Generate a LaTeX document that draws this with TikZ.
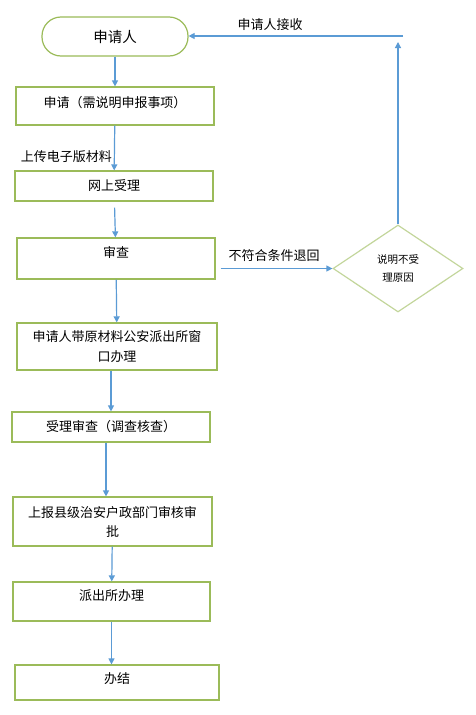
\documentclass[tikz,border=0pt]{standalone}
\usepackage{fontspec}
\setmainfont{Noto Sans CJK SC}
\usetikzlibrary{arrows.meta,shapes.geometric}

\definecolor{boxgreen}{RGB}{155,187,89}
\definecolor{diagreen}{RGB}{195,214,155}
\definecolor{flowblue}{RGB}{91,155,213}

\begin{document}
\begin{tikzpicture}[x=1pt, y=-1pt,
    box/.style={draw=boxgreen, line width=1.2pt, inner sep=0pt, align=center,
        font=\fontsize{13pt}{20pt}\selectfont},
    flow/.style={draw=flowblue, line width=1.2pt, -{Triangle[width=6pt,length=6pt]}},
    note/.style={font=\fontsize{13pt}{15pt}\selectfont, inner sep=2pt}]
    \useasboundingbox[fill=white] (0,0) rectangle (476,715);

    % Start
    \node[box, rounded corners=19pt, minimum width=146pt, minimum height=39pt,
        font=\fontsize{14.5pt}{16pt}\selectfont] (start) at (115,36.5) {申请人};

    % Steps
    \node[box, minimum width=198pt, minimum height=38pt, text depth=9pt] (apply) at (115,106) {申请（需说明申报事项）};
    \node[box, minimum width=198pt, minimum height=30pt] (online) at (114,186) {网上受理};
    \node[box, minimum width=198pt, minimum height=41pt, text depth=13pt] (check) at (116,258.5) {审查};
    \node[box, minimum width=200pt, minimum height=47pt] (window) at (117,346.5) {申请人带原材料公安派出所窗\\口办理};
    \node[box, minimum width=198pt, minimum height=30pt] (review) at (111,427) {受理审查（调查核查）};
    \node[box, minimum width=199pt, minimum height=49pt, font=\fontsize{13pt}{19pt}\selectfont] (county) at (112.5,521.5) {上报县级治安户政部门审核审\\批};
    \node[box, minimum width=197pt, minimum height=39pt, text depth=13pt] (station) at (111.5,601.5) {派出所办理};
    \node[box, minimum width=204pt, minimum height=35pt, text depth=8pt] (done) at (117,682.5) {办结};

    % Rejection
    \node[draw=diagreen, line width=1.2pt, diamond, inner sep=0pt, minimum width=130pt,
        minimum height=87pt, align=center, font=\fontsize{10.5pt}{18pt}\selectfont] (dia) at (398,268.5) {说明不受\\理原因};

    % Main flow
    \draw[flow] (start) -- (apply);
    \draw[flow] (apply) -- (online) node[note, pos=0.7, left] {上传电子版材料};
    \draw[flow, shorten <=6pt] (online) -- (check);
    \draw[flow] (check) -- (window);
    \draw[flow] (window.south -| review) -- (review);
    \draw[flow] ([xshift=-5pt]review.south) -- ([xshift=-5pt]review.south |- county.north);
    \draw[flow] (county) -- (station);
    \draw[flow] (station.south) -- (station.south |- done.north);

    % Return path
    \draw[flow, shorten <=5pt] (check.east |- dia.west) -- (dia.west)
        node[note, midway, above=4pt] {不符合条件退回};
    \coordinate (turn) at (400,42);
    \coordinate (corner) at (403,36);
    \draw[flow] (dia.north) -- (dia.north |- turn);
    \draw[flow] (corner) -- (corner -| start.east)
        node[note, pos=0.62, above=3pt] {申请人接收};
\end{tikzpicture}
\end{document}
